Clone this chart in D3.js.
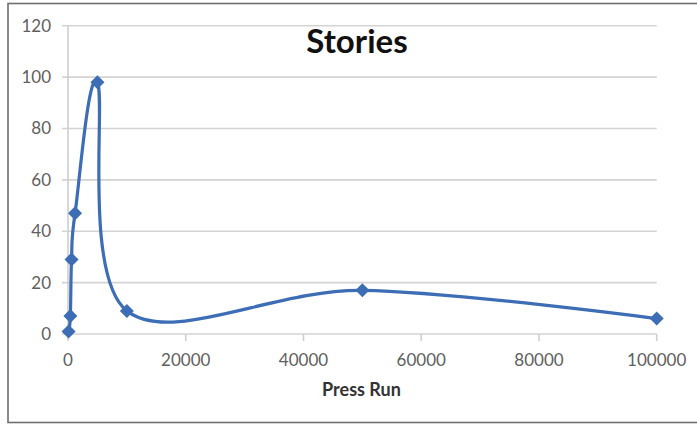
<!DOCTYPE html>
<html><head><meta charset="utf-8">
<script src="https://cdn.jsdelivr.net/npm/d3@7"></script>
<style>html,body{margin:0;padding:0;background:#fff;overflow:hidden}</style>
</head><body><svg id="c" width="697" height="424"></svg>
<script>
const pressRun = [100, 400, 600, 1200, 5000, 10000, 50000, 100000];
const stories = [1, 7, 29, 47, 98, 9, 17, 6];
const xTicks = [0, 20000, 40000, 60000, 80000, 100000];
const yTicks = [0, 20, 40, 60, 80, 100, 120];
const title = "Stories";
const xTitle = "Press Run";

const svg = d3.select("#c");
const font = "Lato, 'Open Sans', sans-serif";
const blue = "#3c6db5";

svg.append("rect").attr("x", 8).attr("y", 3.5).attr("width", 700).attr("height", 419)
  .attr("fill", "#fff").attr("stroke", "#6f6f6f").attr("stroke-width", 1.6);

const x = d3.scaleLinear().domain([0, 100000]).range([68, 656.7]);
const y = d3.scaleLinear().domain([0, 120]).range([334, 25.7]);

// horizontal gridlines
svg.append("g").selectAll("line").data(yTicks).join("line")
  .attr("x1", 62).attr("x2", x(100000))
  .attr("y1", d => y(d)).attr("y2", d => y(d))
  .attr("stroke", "#d3d3d3").attr("stroke-width", 1.6);

// y axis line
svg.append("line").attr("x1", x(0)).attr("x2", x(0)).attr("y1", y(120)).attr("y2", y(0))
  .attr("stroke", "#cfcfcf").attr("stroke-width", 1.6);

// x ticks
svg.append("g").selectAll("line").data(xTicks).join("line")
  .attr("x1", d => x(d)).attr("x2", d => x(d)).attr("y1", y(0)).attr("y2", y(0) + 7)
  .attr("stroke", "#cfcfcf").attr("stroke-width", 1.6);

// y labels
svg.append("g").selectAll("text").data(yTicks).join("text")
  .attr("x", 51).attr("y", d => y(d) + 6)
  .attr("text-anchor", "end").attr("font-family", font).attr("font-size", 17)
  .attr("fill", "#606060").text(d => d);

// x labels
svg.append("g").selectAll("text").data(xTicks).join("text")
  .attr("x", d => x(d)).attr("y", 366)
  .attr("text-anchor", "middle").attr("font-family", font).attr("font-size", 17)
  .attr("fill", "#606060").text(d => d);

// titles
svg.append("text").attr("x", 357).attr("y", 53).attr("text-anchor", "middle")
  .attr("font-family", font).attr("font-weight", "bold").attr("font-size", 33)
  .attr("fill", "#111").text(title);
svg.append("text").attr("x", 361.5).attr("y", 396).attr("text-anchor", "middle")
  .attr("font-family", font).attr("font-weight", "bold").attr("font-size", 18)
  .attr("fill", "#333").text(xTitle);

const data = pressRun.map((p, i) => [p, stories[i]]);
const line = d3.line().x(d => x(d[0])).y(d => y(d[1])).curve(d3.curveCardinal.tension(0));
svg.append("path").datum(data).attr("d", line)
  .attr("fill", "none").attr("stroke", blue).attr("stroke-width", 3.2);

svg.append("g").selectAll("path").data(data).join("path")
  .attr("d", "M0,-7L7,0L0,7L-7,0Z")
  .attr("transform", d => `translate(${x(d[0])},${y(d[1])})`)
  .attr("fill", blue);
</script></body></html>
